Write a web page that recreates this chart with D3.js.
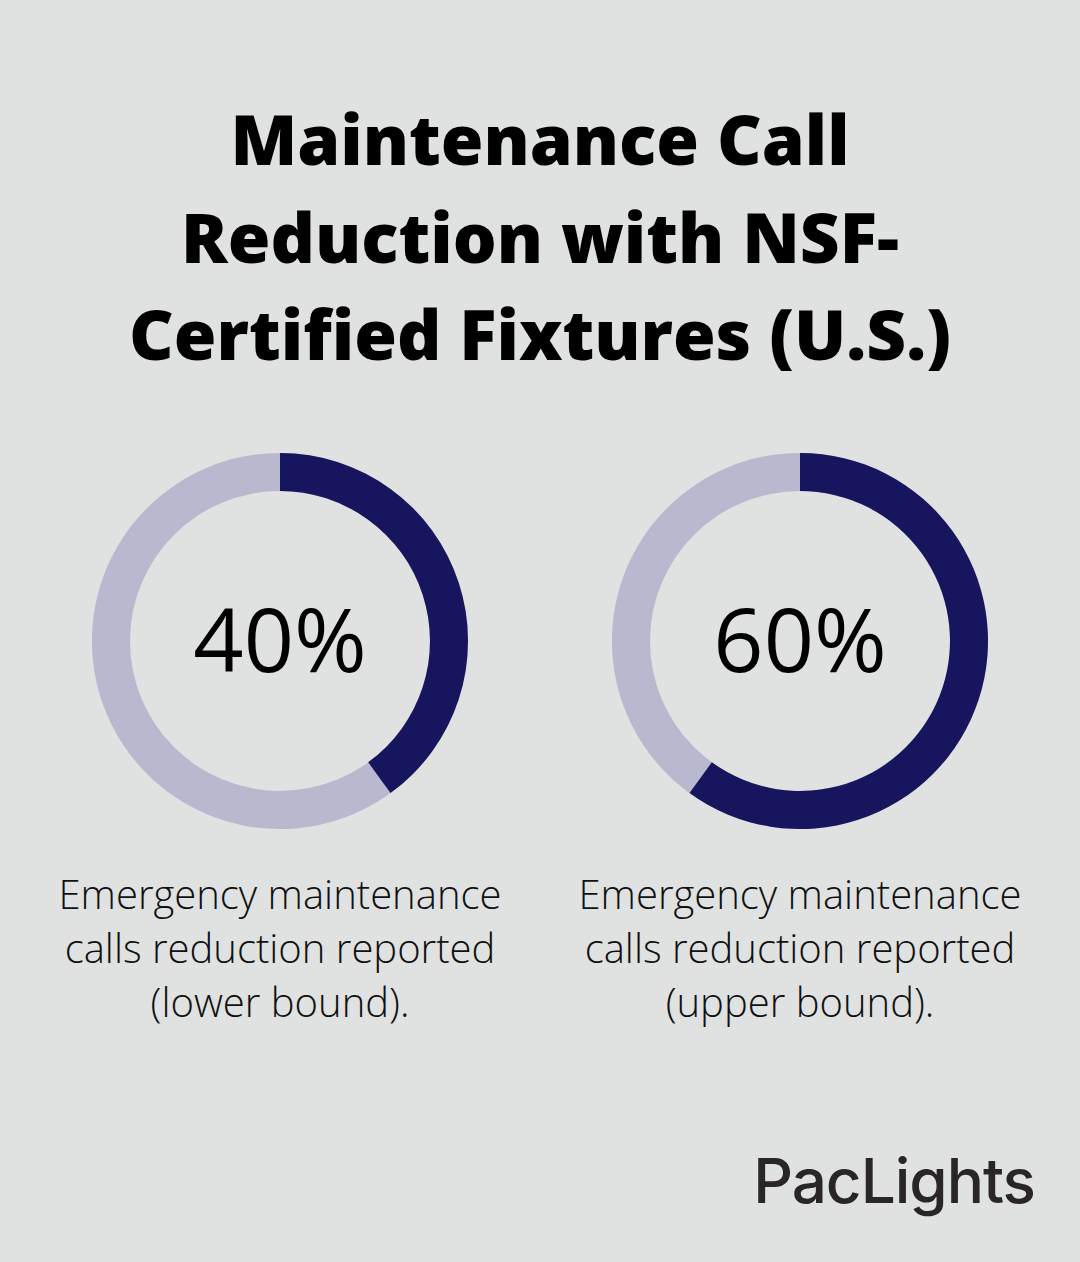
<!DOCTYPE html>
<html><head><meta charset="utf-8">
<script src="https://cdn.jsdelivr.net/npm/d3@7"></script>
<style>
html,body{margin:0;padding:0;background:#e0e2e1;}
svg{display:block;}
</style></head>
<body>
<svg id="chart" width="1080" height="1262"></svg>
<script>
const titleLines = ["Maintenance Call", "Reduction with NSF-", "Certified Fixtures (U.S.)"];
const values = [40, 60];
const valueLabels = ["40%", "60%"];
const captions = [
  ["Emergency maintenance", "calls reduction reported", "(lower bound)."],
  ["Emergency maintenance", "calls reduction reported", "(upper bound)."]
];
const brand = "PacLights";

const svg = d3.select("#chart");
svg.append("rect").attr("width",1080).attr("height",1262).attr("fill","#e0e2e1");

const title = svg.append("g").selectAll("text").data(titleLines).join("text")
  .attr("x",540).attr("y",(d,i)=>165+i*97.5)
  .attr("text-anchor","middle")
  .attr("font-family","'Open Sans', sans-serif")
  .attr("font-weight",800).attr("font-size",66).attr("fill","#000")
  .text(d=>d);
// fit last line width to reference (~822px)
title.each(function(d,i){
  if(i===2){
    const w=this.getComputedTextLength();
    if(w>0){
      const s=822/w;
      title.attr("font-size",66*s);
    }
  }
});

const x = d3.scalePoint().domain(d3.range(values.length)).range([280,800]);
const arc = d3.arc().innerRadius(150).outerRadius(188);
const ang = d3.scaleLinear().domain([0,100]).range([0,2*Math.PI]);

values.forEach((v,i)=>{
  const g = svg.append("g").attr("transform",`translate(${x(i)},641)`);
  g.append("path").attr("d",arc({startAngle:0,endAngle:2*Math.PI})).attr("fill","#b8b9cf");
  g.append("path").attr("d",arc({startAngle:0,endAngle:ang(v)})).attr("fill","#16155e");
  g.append("text").attr("x",0).attr("y",31).attr("text-anchor","middle")
    .attr("font-family","'Open Sans', sans-serif").attr("font-size",88).attr("fill","#000")
    .text(valueLabels[i]);
  svg.append("g").selectAll("text").data(captions[i]).join("text")
    .attr("x",x(i)).attr("y",(d,j)=>909+j*54)
    .attr("text-anchor","middle")
    .attr("font-family","'Open Sans', sans-serif").attr("font-weight",300)
    .attr("font-size",40).attr("fill","#111")
    .text(d=>d);
});

svg.append("text").attr("x",1035).attr("y",1203).attr("text-anchor","end")
  .attr("font-family","Inter, sans-serif").attr("font-weight",500)
  .attr("font-size",62).attr("letter-spacing",-1).attr("fill","#2b2626")
  .text(brand);
</script>
</body></html>
